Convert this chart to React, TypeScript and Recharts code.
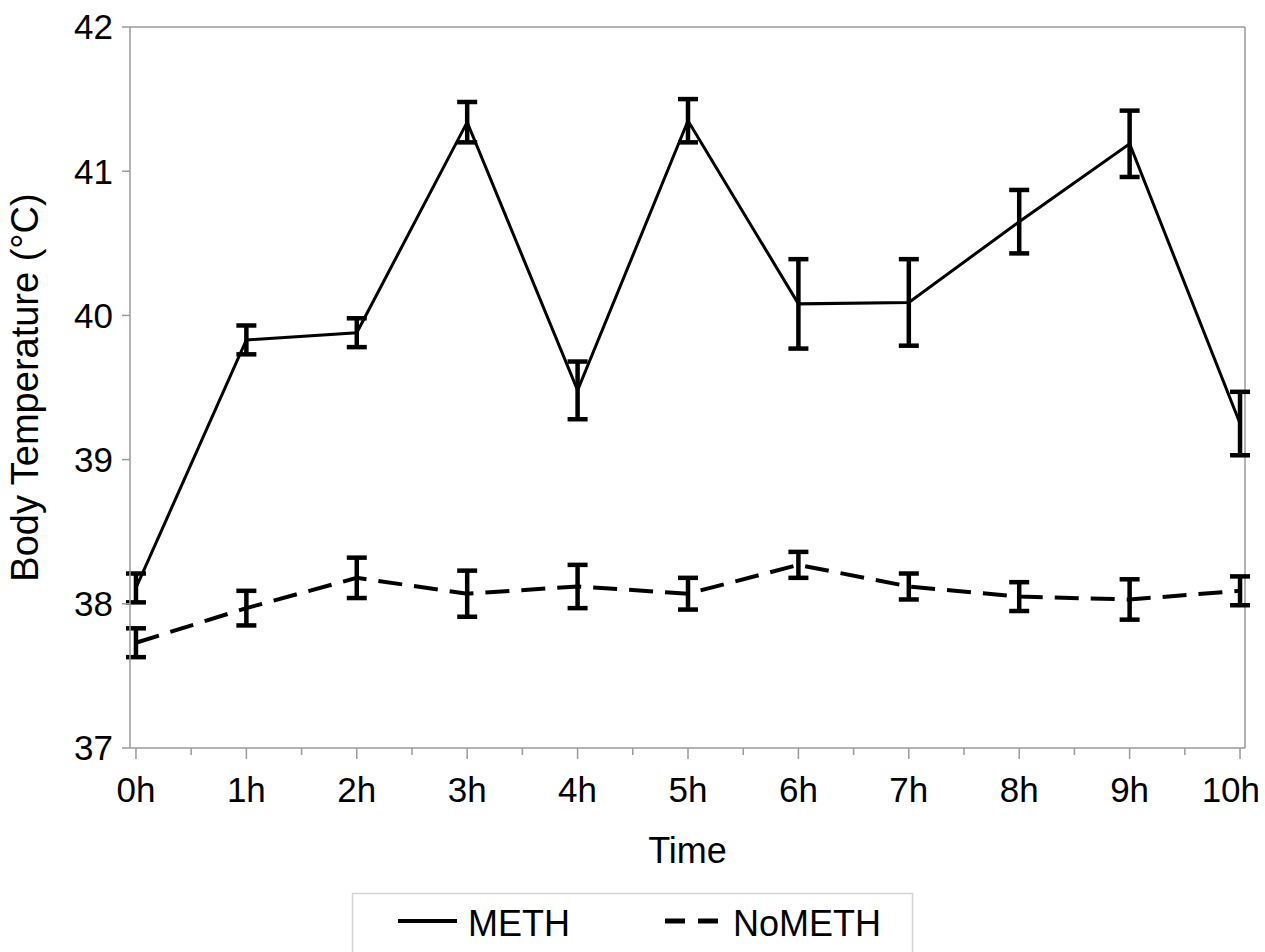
import { ComposedChart, Line, XAxis, YAxis, ErrorBar, ReferenceLine } from "recharts";

const hours = [0, 1, 2, 3, 4, 5, 6, 7, 8, 9, 10];
const hourLabels = ["0h", "1h", "2h", "3h", "4h", "5h", "6h", "7h", "8h", "9h", "10h"];
const methMean = [38.11, 39.83, 39.88, 41.34, 39.48, 41.35, 40.08, 40.09, 40.65, 41.19, 39.25];
const methErr = [0.1, 0.1, 0.1, 0.14, 0.2, 0.15, 0.31, 0.3, 0.22, 0.23, 0.22];
const noMethMean = [37.73, 37.97, 38.18, 38.07, 38.12, 38.07, 38.27, 38.12, 38.05, 38.03, 38.09];
const noMethErr = [0.1, 0.12, 0.14, 0.16, 0.15, 0.11, 0.09, 0.09, 0.1, 0.14, 0.1];
const yTicks = [37, 38, 39, 40, 41, 42];

const FONT = "'Liberation Sans', Arial, sans-serif";
const AXIS_GREY = "#9a9a9a";
const X_MIN = -0.054;
const X_MAX = 10.045;

const data = hours.map((h, i) => ({
  hour: h,
  meth: methMean[i],
  methErr: methErr[i],
  noMeth: noMethMean[i],
  noMethErr: noMethErr[i],
}));

// major ticks on the hour, minor ones half way between
const xTicks = [...hours, ...hours.slice(1).map((h) => h - 0.5)].sort((a, b) => a - b);

function TimeTick(props: any) {
  const { x, y, payload } = props;
  const major = Number.isInteger(payload.value);
  // last label is pulled in so it stays inside the picture, like the original
  const last = payload.value === hours[hours.length - 1];
  return (
    <g>
      <line x1={x} y1={y} x2={x} y2={y + (major ? 11 : 7)} stroke={AXIS_GREY} strokeWidth={1.5} />
      {major && (
        <text
          x={last ? x + 20 : x}
          y={y + 54}
          textAnchor={last ? "end" : "middle"}
          fontSize={35}
          fontFamily={FONT}
          fill="#000"
        >
          {hourLabels[payload.value]}
        </text>
      )}
    </g>
  );
}

function TempLabel(props: any) {
  const { viewBox } = props;
  const cx = 38;
  const cy = viewBox.y + viewBox.height / 2;
  return (
    <text
      x={cx}
      y={cy}
      transform={`rotate(-90, ${cx}, ${cy})`}
      textAnchor="middle"
      fontSize={38}
      fontFamily={FONT}
      fill="#000"
    >
      Body Temperature (°C)
    </text>
  );
}

function LegendBox() {
  return (
    <svg
      width={1265}
      height={952}
      style={{ position: "absolute", left: 0, top: 0, pointerEvents: "none" }}
    >
      <rect x={352.5} y={893.5} width={560} height={80} fill="none" stroke="#d4d4d4" strokeWidth={1.5} />
      <line x1={398} y1={921} x2={457} y2={921} stroke="#000" strokeWidth={4} />
      <text x={468} y={936} fontSize={36} fontFamily={FONT} fill="#000">
        METH
      </text>
      <line x1={665} y1={921} x2={718} y2={921} stroke="#000" strokeWidth={5} strokeDasharray="20 13" />
      <text x={733} y={936} fontSize={36} fontFamily={FONT} fill="#000">
        NoMETH
      </text>
    </svg>
  );
}

export default function App() {
  return (
    <div style={{ position: "absolute", left: 0, top: 0, width: 1265, height: 952, background: "#fff" }}>
      <ComposedChart
        width={1265}
        height={952}
        data={data}
        margin={{ top: 27, right: 20, left: 0, bottom: 0 }}
      >
        <XAxis
          dataKey="hour"
          type="number"
          domain={[X_MIN, X_MAX]}
          allowDataOverflow
          ticks={xTicks}
          interval={0}
          height={204}
          tickSize={0}
          tickMargin={0}
          tickLine={false}
          tick={<TimeTick />}
          axisLine={{ stroke: AXIS_GREY, strokeWidth: 1.5 }}
          label={{
            value: "Time",
            position: "insideTop",
            offset: 89,
            fontSize: 36,
            fontFamily: FONT,
            fill: "#000",
          }}
        />
        <YAxis
          type="number"
          domain={[37, 42]}
          allowDataOverflow
          ticks={yTicks}
          width={130}
          tickSize={8}
          tickMargin={9}
          tick={{ fontSize: 35, fontFamily: FONT, fill: "#000" }}
          tickLine={{ stroke: AXIS_GREY, strokeWidth: 1.5 }}
          axisLine={{ stroke: AXIS_GREY, strokeWidth: 1.5 }}
          label={<TempLabel />}
        />
        <ReferenceLine y={42} stroke={AXIS_GREY} strokeWidth={1.5} />
        <ReferenceLine x={X_MAX} stroke={AXIS_GREY} strokeWidth={1.5} />
        <Line
          dataKey="meth"
          type="linear"
          stroke="#000"
          strokeWidth={3}
          dot={false}
          activeDot={false}
          isAnimationActive={false}
        >
          <ErrorBar dataKey="methErr" direction="y" width={10} strokeWidth={4.5} stroke="#000" isAnimationActive={false} />
        </Line>
        <Line
          dataKey="noMeth"
          type="linear"
          stroke="#000"
          strokeWidth={4}
          strokeDasharray="24 12"
          dot={false}
          activeDot={false}
          isAnimationActive={false}
        >
          <ErrorBar dataKey="noMethErr" direction="y" width={10} strokeWidth={4.5} stroke="#000" isAnimationActive={false} />
        </Line>
      </ComposedChart>
      <LegendBox />
    </div>
  );
}
